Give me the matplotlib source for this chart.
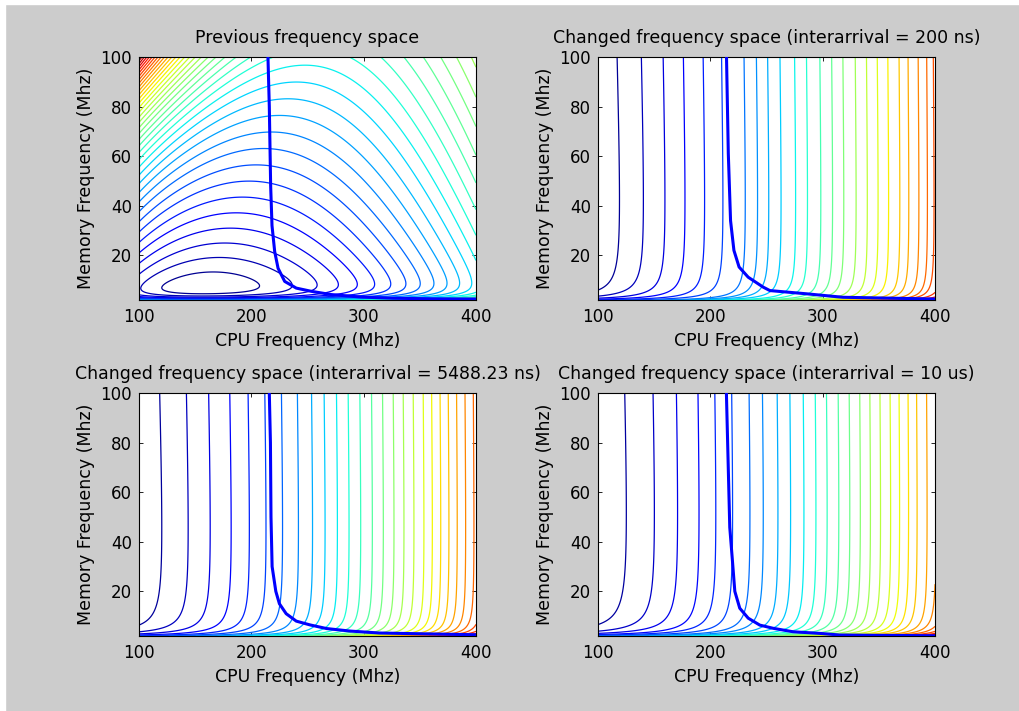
import numpy as np
import matplotlib
matplotlib.use("Agg")
import matplotlib.pyplot as plt
from matplotlib.colors import Normalize
from matplotlib.patches import Rectangle

# ---------------- values ----------------
titles = ["Previous frequency space",
          "Changed frequency space (interarrival = 200 ns)",
          "Changed frequency space (interarrival = 5488.23 ns)",
          "Changed frequency space (interarrival = 10 us)"]
x_label = "CPU Frequency (Mhz)"
y_label = "Memory Frequency (Mhz)"
x_ticks = [100, 200, 300, 400]
y_ticks = [20, 40, 60, 80, 100]
cpu_range = [100, 400]
mem_range = [2, 100]

# thick blue curve of each panel (CPU MHz, memory MHz)
curve1_x = [214.8, 216.0, 217.2, 218.4, 220.8, 223.8, 229.7, 240.0, 253.4, 271.0, 297.0, 326.0, 360.0, 400.0]
curve1_y = [100.0, 80.0, 48.0, 32.0, 21.5, 14.8, 9.5, 6.8, 5.5, 4.2, 3.2, 2.7, 2.5, 2.4]
curve2_x = [214.4, 216.0, 218.0, 221.0, 225.6, 233.7, 247.0, 253.0, 285.6, 318.0, 400.0]
curve2_y = [100.0, 61.0, 34.0, 22.0, 15.3, 11.2, 7.2, 5.8, 4.5, 3.1, 2.4]
curve3_x = [216.0, 217.0, 217.5, 218.5, 221.8, 225.0, 231.0, 240.0, 252.0, 267.0, 287.7, 314.0, 400.0]
curve3_y = [100.0, 80.0, 50.0, 30.0, 20.0, 15.0, 11.0, 8.0, 6.5, 5.0, 4.0, 3.2, 2.5]
curve4_x = [214.3, 215.8, 217.3, 219.7, 221.8, 226.2, 233.7, 244.0, 256.0, 273.7, 297.5, 315.0, 400.0]
curve4_y = [100.0, 72.9, 45.8, 32.2, 20.0, 13.2, 9.2, 6.4, 5.1, 3.7, 3.05, 2.4, 2.1]

# CPU frequency where each contour line meets the top edge (panels 2-4)
top2 = [117, 138.6, 158, 176, 193.6, 210, 230, 241, 251, 262, 275, 285.6, 297.5,
        308, 318, 329, 339, 348.6, 358, 368, 376, 385, 392.6, 398.5]
top3 = [118.4, 142.2, 162, 180.8, 197.1, 212, 226.8, 241, 253.6, 264.8, 275.8, 286.2,
        296.6, 307, 316.8, 326.3, 335.2, 344.1, 353, 360.5, 368, 375.3, 382.7, 390.2, 397.6]
top4 = [123.8, 149, 169.8, 189, 204, 219, 234.5, 246.4, 259.5, 270.8, 282.7, 293.4,
        303.4, 313.8, 323.6, 333, 342, 351, 360, 368, 376, 383.6, 392.5]
# memory-wall strength of panels 2-4 (fitted to where lines bend)
wall_k = [2.57, 2.98, 3.85]
wall_y0 = 1.2
wall_tilt = 0.0015

# previous-space energy surface parameters (fitted to contour positions)
prev_cpu = [1.23, 6.76]         # cpu term scale, static part
prev_mem = [35.2, 0.678, 0.8]   # memory slope a, b, exponent
prev_floor = 0.00436            # memory starvation term
prev_corner = [17.0, 4.0, 1.9]  # corner weight, exponent, decay
prev_nlevels = 37
prev_first = 0.7                # first level, in level steps above the minimum

# ---------------- figure ----------------
W, Hh = 1019, 711
fig = plt.figure(figsize=(W / 100, Hh / 100), dpi=100)
fig.patch.set_facecolor("#cccccc")
fig.add_artist(Rectangle((0, 0), 5 / W, 1, transform=fig.transFigure, color="white", zorder=-1))
fig.add_artist(Rectangle((0, 1 - 4 / Hh), 1, 4 / Hh, transform=fig.transFigure, color="white", zorder=-1))

boxes = [(139, 57), (598, 57), (139, 393), (598, 393)]
aw, ah = 337, 243

xg = np.linspace(cpu_range[0], cpu_range[1], 401)
yg = np.unique(np.concatenate([np.linspace(mem_range[0], 12, 301), np.linspace(12, mem_range[1], 221)]))
X, Y = np.meshgrid(xg, yg)
U, V = X / 100.0, Y / 100.0

curves = [(curve1_x, curve1_y), (curve2_x, curve2_y), (curve3_x, curve3_y), (curve4_x, curve4_y)]
tops = [None, top2, top3, top4]

for i in range(4):
    px, py = boxes[i]
    ax = fig.add_axes([px / W, 1 - (py + ah) / Hh, aw / W, ah / Hh])
    ax.set_facecolor("white")
    if i == 0:
        cA, pA = prev_cpu
        sa, sb, g = prev_mem
        w, kk, lam = prev_corner
        s = sa / (U ** 0.8 + sb)
        Z = cA * (pA / U + U ** 2) + s * V ** g + prev_floor / V ** 2 + w * V ** kk * np.exp(-lam * (U - 1))
        zmin, zmax = Z.min(), Z.max()
        dz = (zmax - zmin) / (prev_nlevels + 1)
        levels = zmin + dz * (np.arange(prev_nlevels) + prev_first)
    else:
        k = wall_k[i - 1]
        Hf = lambda y: k / (y - wall_y0) + wall_tilt * y
        Z = U ** 2 + Hf(Y)
        zmin, zmax = Z.min(), Z.max()
        lv = list((np.array(tops[i]) / 100.0) ** 2 + Hf(100.0))
        step = np.mean(np.diff(lv[-6:]))
        while lv[-1] + step < zmax:
            lv.append(lv[-1] + step)
        levels = np.array(lv)
    ax.contour(X, Y, Z, levels=levels, cmap="jet", norm=Normalize(zmin, zmax), linewidths=0.9)
    cx, cy = curves[i]
    ax.plot(cx, cy, color=(0, 0, 1), lw=2.2, solid_capstyle="butt", zorder=5)

    ax.set_xlim(cpu_range)
    ax.set_ylim(mem_range)
    ax.set_xticks(x_ticks)
    ax.set_yticks(y_ticks)
    ax.tick_params(direction="in", top=True, right=True, length=3.2, width=0.6,
                   labelsize=12, pad=6)
    ax.tick_params(axis="y", pad=5)
    for sp in ax.spines.values():
        sp.set_linewidth(0.8)
    ax.set_title(titles[i], fontsize=12.5, pad=10)
    ax.set_xlabel(x_label, fontsize=12.5, labelpad=4)
    ax.set_ylabel(y_label, fontsize=12.5, labelpad=4)

fig.savefig("out.png", dpi=100, facecolor=fig.get_facecolor())
